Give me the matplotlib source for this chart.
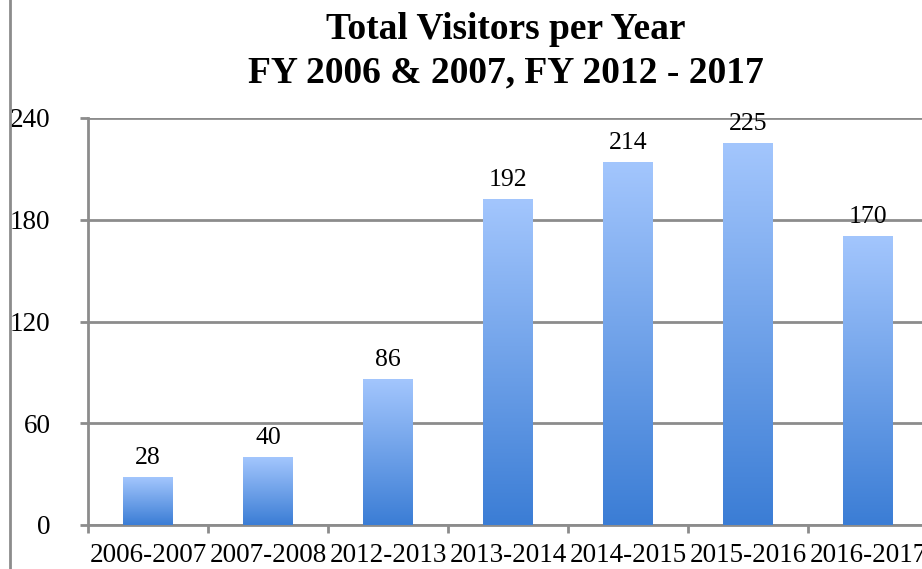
import matplotlib
matplotlib.use("Agg")
import matplotlib.pyplot as plt
import numpy as np
from matplotlib.colors import LinearSegmentedColormap
from matplotlib.lines import Line2D

categories = ["2006-2007", "2007-2008", "2012-2013", "2013-2014",
              "2014-2015", "2015-2016", "2016-2017"]
visitors = [28, 40, 86, 192, 214, 225, 170]
yticks = [0, 60, 120, 180, 240]
title_lines = ["Total Visitors per Year", "FY 2006 & 2007, FY 2012 - 2017"]

plt.rcParams['font.family'] = ['Liberation Serif', 'DejaVu Serif']

W, H = 922, 569
fig = plt.figure(figsize=(W / 100, H / 100), dpi=100)
ax_left = 88 / W
ax_right = 928 / W
ax_bottom = (H - 525) / H
ax_top = (H - 118) / H
ax = fig.add_axes([ax_left, ax_bottom, ax_right - ax_left, ax_top - ax_bottom])

grid_color = "#8c8c8c"
cmap = LinearSegmentedColormap.from_list("g", ["#3b7dd5", "#a3c6fd"])
grad = np.linspace(0, 1, 256).reshape(-1, 1)
bar_w = 0.41
x = np.arange(len(categories))
for xi, v in zip(x, visitors):
    ax.imshow(grad, extent=[xi - bar_w / 2, xi + bar_w / 2, 0, v], origin="lower",
              cmap=cmap, aspect="auto", zorder=3, interpolation="bicubic")
    ax.text(xi, v + 5, str(v), ha="center", va="bottom", fontsize=18.5, zorder=4)

ax.set_xlim(-0.5, len(categories) - 0.5)
ax.set_ylim(0, 240)
ax.set_yticks(yticks)
ax.set_yticklabels([str(t) for t in yticks], fontsize=19.5)
ax.set_xticks(x)
ax.set_xticklabels(categories, fontsize=19.5)
ax.set_xticks(np.arange(len(categories) + 1) - 0.5, minor=True)
ax.tick_params(axis="x", which="major", length=0, pad=13)
ax.tick_params(axis="x", which="minor", length=6, width=2, color=grid_color, direction="out")
ax.tick_params(axis="y", length=6, width=2, color=grid_color, direction="out", pad=21)

ax.yaxis.grid(True, color=grid_color, linewidth=2)
ax.set_axisbelow(True)
for s in ["top", "right"]:
    ax.spines[s].set_visible(False)
for s in ["left", "bottom"]:
    ax.spines[s].set_color(grid_color)
    ax.spines[s].set_linewidth(2)

for line, base in zip(title_lines, [39, 82]):
    fig.text(506 / W, 1 - base / H, line, ha="center", va="baseline", fontsize=27,
             fontweight="bold")

fig.add_artist(Line2D([10 / W, 10 / W], [0, 1], color=grid_color, linewidth=2,
                      transform=fig.transFigure))

fig.savefig("out.png", dpi=100)
